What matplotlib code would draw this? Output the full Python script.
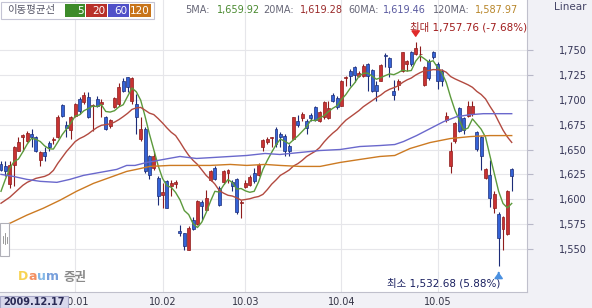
import numpy as np
import pandas as pd
import matplotlib
matplotlib.use('Agg')
import matplotlib.pyplot as plt
from matplotlib.patches import Rectangle

plt.rcParams['font.family'] = ['DejaVu Sans', 'Noto Sans CJK KR']

# daily candles, 2009.12.07 .. 2010.05.28
opens = [1635,1633,1615,1634,1649,1663,1659,1666,1663,1639,
         1647,1657,1660,1663,1695,1675,1670,1684,1701,1698,
         1703,1694,1701,1696,1683,1674,1693,1696,1719,1723,
         1699,1696,1661,1671,1643,1631,1621,1604,1618,1613,
         1615,1568,1566,1549,1579,1575,1597,1589,1619,1631,
         1611,1617,1626,1617,1620,1596,1612,1614,1626,1624,
         1653,1658,1662,1671,1666,1664,1654,1661,1679,1682,
         1679,1685,1693,1679,1683,1682,1705,1702,1694,1722,
         1729,1733,1724,1724,1736,1730,1715,1719,1745,1742,
         1709,1715,1729,1736,1748,1746,1745.5,1715,1739,1748,
         1736,1729,1680,1633,1659,1692,1682,1684,1686,1668,
         1663,1621,1624,1591,1585,1570,1565,1630]
highs = [1638,1638,1638,1654,1663,1666,1669,1671,1664,1649,
         1653,1659,1663,1685,1696,1679,1684,1697,1703,1708,
         1708,1696,1704,1701,1684,1681,1703,1717,1722,1723,
         1723,1706,1683,1673,1644,1649,1623,1616,1619,1619,
         1619,1574,1566,1573,1582,1599,1599,1609,1629,1633,
         1613,1629,1630,1619,1621,1599,1619,1624,1631,1636,
         1661,1663,1663,1673,1668,1666,1656,1683,1685,1688,
         1681,1687,1694,1689,1699,1699,1707,1704,1720,1724,
         1731,1734,1729,1736,1737,1731,1719,1736,1747,1743,
         1720,1721,1748,1740,1749,1757.76,1754,1734,1741,1749,
         1738,1731,1688,1658,1678,1693,1683,1699,1699,1669,
         1664,1631,1639,1608,1587,1583,1609,1631]
lows = [1628,1623,1611,1613,1648,1649,1658,1653,1647,1633,
        1638,1649,1656,1662,1683,1663,1661,1683,1686,1696,
        1682,1669,1693,1683,1670,1672,1692,1694,1708,1708,
        1696,1666,1659,1626,1620,1629,1594,1591,1591,1603,
        1611,1563,1549,1549,1569,1574,1579,1588,1618,1619,
        1593,1615,1616,1608,1585,1581,1611,1613,1616,1623,
        1649,1656,1653,1653,1653,1643,1643,1660,1673,1679,
        1666,1679,1679,1678,1681,1681,1698,1691,1694,1714,
        1714,1718,1723,1723,1709,1708,1699,1719,1733,1723,
        1700,1710,1728,1729,1734,1745,1739,1714,1720,1741,
        1711,1714,1678,1626,1657,1668,1666,1683,1684,1649,
        1629,1620,1592,1586,1532.68,1549,1564,1608]
closes = [1629,1628,1634,1653,1658,1665,1667,1663,1648,1647,
          1643,1653,1661,1683,1684,1672,1683,1696,1689,1705,
          1683,1695,1694,1698,1671,1680,1702,1713,1709,1713,
          1722,1683,1671,1628,1624,1643,1603,1607,1591,1616,
          1617,1566,1553,1571,1570,1598,1593,1601,1628,1620,
          1594,1628,1629,1613,1587,1597,1616,1622,1618,1634,
          1660,1661,1662.5,1656,1663,1649,1648,1683,1675,1686,
          1672,1682,1680,1688,1698,1692,1699,1693,1719,1723,
          1724,1725,1727,1734,1724,1709,1709,1735,1744,1733,
          1705,1719,1748,1739,1736,1752,1746,1733,1722,1743,
          1719,1719,1684,1648,1677,1669,1670,1694,1694,1651,
          1643,1630,1601,1605,1561,1582,1608,1623]

# moving averages: start of 5/20 lines (no earlier data)
ma5_head = [1608, 1620, 1631, 1638]
ma20_head = [1596, 1599, 1602, 1606, 1610, 1614, 1617, 1619, 1621, 1622,
             1623, 1625, 1629, 1636, 1642, 1648, 1653, 1658, 1661]
ma60_x = [0, 2.8, 5.9, 9.0, 12.8, 15.8, 18.9, 22.7, 26.5, 28.8, 30.7, 33.4,
          37.2, 41.0, 44.8, 48.7, 52.5, 56.3, 60.5, 63.9, 68.5, 73.1, 77.7,
          82.2, 86.8, 90.2, 92.2, 95.2, 98.3, 101.4, 104.4, 107.5, 110.5,
          113.6, 117]
ma60_v = [1625, 1623, 1620, 1618, 1617, 1620, 1624, 1627, 1630, 1634, 1634,
          1637, 1640, 1643, 1641, 1642, 1643, 1644, 1646, 1645, 1647, 1649,
          1650, 1653, 1654, 1655, 1658, 1664, 1671, 1678, 1683, 1685, 1686,
          1686, 1686]
ma120_x = [0, 2.1, 5.9, 9.7, 13.5, 17.3, 21.2, 25.0, 28.8, 31.0, 34.1, 38.7,
           43.3, 47.9, 52.5, 56.3, 60.5, 63.9, 68.5, 73.1, 75.4, 77.7, 82.2,
           86.8, 90.2, 93.7, 98.3, 102.9, 107.5, 112.0, 117]
ma120_v = [1573, 1576, 1584, 1591, 1599, 1608, 1616, 1622, 1628, 1630, 1633,
           1634, 1634, 1634, 1635, 1634, 1635, 1634, 1633, 1633, 1635, 1637,
           1640, 1643, 1644, 1651, 1657, 1661, 1663, 1664, 1664]

month_idx = [17, 37, 56, 78, 100]
month_labels = ['10.01', '10.02', '10.03', '10.04', '10.05']
yticks = list(range(1550, 1751, 25))

header_ma = [('5MA:', '1,659.92'), ('20MA:', '1,619.28'),
             ('60MA:', '1,619.46'), ('120MA:', '1,587.97')]

C_UP, E_UP = '#c83232', '#8e1c1c'
C_DN, E_DN = '#3462d6', '#1c2c78'
MA_COL = ['#5c9a3c', '#b24a40', '#6a68cc', '#cc7a22']

W, H = 592, 308
def px(x): return x / W
def py(y): return 1 - y / H

o = np.array(opens, float); h = np.array(highs, float)
l = np.array(lows, float); c = np.array(closes, float)
idx = np.arange(len(c))
up = c >= o

ma5 = pd.Series(c).rolling(5).mean().to_numpy()
ma5[:4] = ma5_head
ma20 = pd.Series(c).rolling(20).mean().to_numpy()
ma20[:19] = ma20_head

fig = plt.figure(figsize=(5.92, 3.08), dpi=100, facecolor='#f1f1f6')
ax = fig.add_axes([0, 1 - 292 / H, 527 / W, 292 / H])
ax.set_facecolor('white')
ax.set_xlim(-0.229, 120.5)
ax.set_ylim(1506.8, 1800.25)

ax.vlines(idx[up], l[up], h[up], color=E_UP, lw=0.8, zorder=2)
ax.vlines(idx[~up], l[~up], h[~up], color=E_DN, lw=0.8, zorder=2)
bot = np.minimum(o, c)
hgt = np.maximum(np.abs(c - o), 0.9)
ax.bar(idx[up], hgt[up], bottom=bot[up], width=0.68, color=C_UP,
       edgecolor=E_UP, linewidth=0.5, zorder=3)
ax.bar(idx[~up], hgt[~up], bottom=bot[~up], width=0.68, color=C_DN,
       edgecolor=E_DN, linewidth=0.5, zorder=3)

ax.plot(idx, ma5, color=MA_COL[0], lw=1.0, zorder=4)
ax.plot(idx, ma20, color=MA_COL[1], lw=1.0, zorder=4)
ax.plot(ma60_x, ma60_v, color=MA_COL[2], lw=1.0, zorder=4)
ax.plot(ma120_x, ma120_v, color=MA_COL[3], lw=1.0, zorder=4)

ax.set_xticks(month_idx)
ax.set_xticklabels(month_labels)
ax.set_yticks(yticks)
ax.set_yticklabels([f'{v:,}' for v in yticks])
ax.yaxis.tick_right()
ax.grid(color='#e6e6ea', lw=0.8)
ax.set_axisbelow(True)
ax.tick_params(axis='y', length=4.3, width=0.8, color='#b8b8c8',
               pad=38.9, labelsize=7, labelcolor='#333355')
for t in ax.get_yticklabels():
    t.set_horizontalalignment('right')
ax.tick_params(axis='x', length=0, pad=3.5, labelsize=7, labelcolor='#333344')
for s in ['left', 'top']:
    ax.spines[s].set_visible(False)
for s in ['right', 'bottom']:
    ax.spines[s].set_color('#c0c0cc')
    ax.spines[s].set_linewidth(0.8)

# max / min markers
imax = int(np.argmax(h)); imin = int(np.argmin(l))
ax.annotate('', xy=(imax, 1760), xytext=(imax, 1769),
            arrowprops=dict(arrowstyle='-|>,head_width=0.25,head_length=0.35',
                            color='#e02a2a', lw=1.2), zorder=5)
ax.text(imax - 1.3, 1773, f'최대 {h[imax]:,.2f} (-7.68%)', ha='left',
        va='center', fontsize=7.5, color='#a01c1c')
ax.annotate('', xy=(imin, 1529.5), xytext=(imin, 1523),
            arrowprops=dict(arrowstyle='-|>,head_width=0.25,head_length=0.35',
                            color='#4a90e0', lw=1.2), zorder=5)
ax.text(imin + 0.3, 1516, f'최소 {l[imin]:,.2f} (5.88%)', ha='right',
        va='center', fontsize=7.5, color='#1a2060')

# header legend
fig.add_artist(Rectangle((px(1), py(19)), 153 / W, 17 / H, transform=fig.transFigure,
                         facecolor='white', edgecolor='#c4c4d4', lw=0.8))
fig.text(px(7), py(10.5), '이동평균선', va='center', fontsize=7.5, color='#555566')
boxes = [(65, 85, '5'), (86, 107, '20'), (108, 129, '60'), (130, 151, '120')]
for (x0, x1, lab), col in zip(boxes, ['#3d8b2a', '#b8302a', '#5050c8', '#c8741a']):
    fig.add_artist(Rectangle((px(x0), py(17)), (x1 - x0) / W, 13 / H,
                             transform=fig.transFigure, facecolor=col,
                             edgecolor='none'))
    fig.text(px(x1 - 1.5), py(10.5), lab, ha='right', va='center',
             fontsize=7.5, color='white')

lab_x = [185, 263, 348, 433]
val_x = [217, 300, 383, 475]
val_col = ['#4a8a30', '#9a2a2a', '#5a5aa0', '#b8862a']
for (lab, val), lx, vx, vc in zip(header_ma, lab_x, val_x, val_col):
    fig.text(px(lx), py(10), lab, va='center', fontsize=7, color='#666677')
    fig.text(px(vx), py(10), val, va='center', fontsize=7, color=vc)
fig.text(px(570), py(7), 'Linear', ha='center', va='center', fontsize=7.5,
         color='#444466')

# logo
for ch, x, col in zip('Daum', [18, 28.4, 36.9, 45.8],
                      ['#f5c518', '#ef6b2e', '#5aa0e0', '#4a7fd0']):
    fig.text(px(x), py(277), ch, va='center', fontsize=9, fontweight='bold',
             color=col, alpha=0.75)
fig.text(px(63), py(277), '증권', va='center', fontsize=9, fontweight='bold',
         color='#8a8a8a')

# scroll handle on the left
fig.add_artist(Rectangle((px(0), py(256)), 9 / W, 33 / H, transform=fig.transFigure,
                         facecolor='white', edgecolor='#b0b0b8', lw=0.8))
for x, y0, y1 in [(3, 236, 243), (5, 233, 244), (7, 237, 243)]:
    fig.add_artist(plt.Line2D([px(x), px(x)], [py(y0), py(y1)],
                              transform=fig.transFigure, color='#888', lw=0.6))

# date box
fig.add_artist(Rectangle((px(0), py(308)), 68 / W, 12 / H, transform=fig.transFigure,
                         facecolor='#d8d8ec', edgecolor='#a8a8c8', lw=0.8))
fig.text(px(34), py(302), '2009.12.17', ha='center', va='center', fontsize=7,
         fontweight='bold', color='#2a2a55')

fig.savefig('out.png', dpi=100, facecolor=fig.get_facecolor())
